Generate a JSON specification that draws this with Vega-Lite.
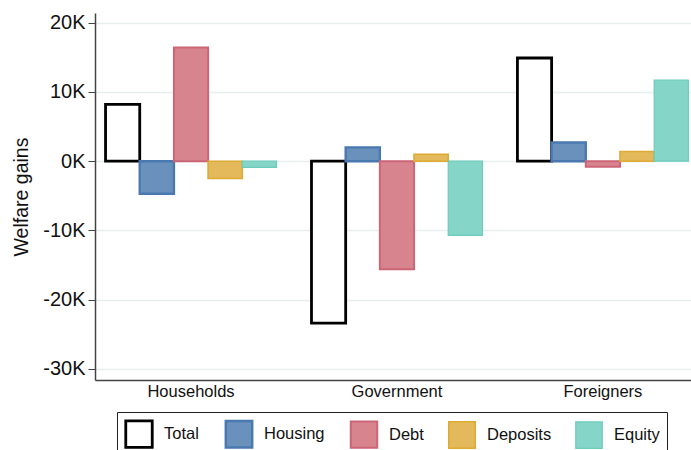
{
  "$schema": "https://vega.github.io/schema/vega-lite/v6.json",
  "autosize": {"type": "none"},
  "padding": {"left": 95, "top": 13, "right": 0, "bottom": 70},
  "width": 596,
  "height": 367,
  "background": "white",
  "config": {
    "font": "Liberation Sans",
    "view": {"stroke": null},
    "legend": {
      "title": "x",
      "titleColor": "#ffffff",
      "titleOrient": "right",
      "titlePadding": 11,
      "titleFontSize": 10,
      "orient": "none",
      "legendX": 22,
      "legendY": 399,
      "direction": "horizontal",
      "columns": 5,
      "symbolType": "square",
      "symbolSize": 700,
      "labelFontSize": 16.5,
      "labelColor": "#111",
      "labelOffset": 10,
      "columnPadding": 21,
      "padding": 7,
      "strokeColor": "#222",
      "fillColor": "white"
    }
  },
  "data": {
    "values": [
      {"sector": "Households", "series": "Total", "value": 8200},
      {"sector": "Households", "series": "Housing", "value": -4700},
      {"sector": "Households", "series": "Debt", "value": 16400},
      {"sector": "Households", "series": "Deposits", "value": -2500},
      {"sector": "Households", "series": "Equity", "value": -900},
      {"sector": "Government", "series": "Total", "value": -23400},
      {"sector": "Government", "series": "Housing", "value": 2000},
      {"sector": "Government", "series": "Debt", "value": -15600},
      {"sector": "Government", "series": "Deposits", "value": 1000},
      {"sector": "Government", "series": "Equity", "value": -10700},
      {"sector": "Foreigners", "series": "Total", "value": 14900},
      {"sector": "Foreigners", "series": "Housing", "value": 2700},
      {"sector": "Foreigners", "series": "Debt", "value": -800},
      {"sector": "Foreigners", "series": "Deposits", "value": 1400},
      {"sector": "Foreigners", "series": "Equity", "value": 11700}
    ]
  },
  "mark": {"type": "bar"},
  "encoding": {
    "x": {
      "field": "sector",
      "type": "nominal",
      "sort": ["Households", "Government", "Foreigners"],
      "scale": {"paddingInner": 0.17, "paddingOuter": 0.032, "align": 0.8},
      "axis": {
        "title": null,
        "labelAngle": 0,
        "ticks": false,
        "labelFontSize": 16.5,
        "labelColor": "#111",
        "labelPadding": 3,
        "domainColor": "#444",
        "domainWidth": 1.5
      }
    },
    "xOffset": {
      "field": "series",
      "type": "nominal",
      "sort": ["Total", "Housing", "Debt", "Deposits", "Equity"],
      "scale": {"paddingInner": 0, "paddingOuter": 0}
    },
    "y": {
      "field": "value",
      "type": "quantitative",
      "scale": {"domain": [-31600, 21400], "nice": false, "zero": false},
      "axis": {
        "title": "Welfare gains",
        "titleFontSize": 19.5,
        "titleFontWeight": "normal",
        "titleColor": "#111",
        "titlePadding": 11,
        "values": [-30000, -20000, -10000, 0, 10000, 20000],
        "labelExpr": "(datum.value < 0 ? '-' : '') + format(abs(datum.value)/1000, 'd') + 'K'",
        "labelFontSize": 20,
        "labelColor": "#111",
        "labelPadding": 3,
        "tickSize": 7,
        "tickColor": "#444",
        "domainColor": "#444",
        "domainWidth": 1.5,
        "grid": true,
        "gridColor": "#e6eff0",
        "gridWidth": 1.5
      }
    },
    "fill": {
      "field": "series",
      "type": "nominal",
      "sort": ["Total", "Housing", "Debt", "Deposits", "Equity"],
      "scale": {
        "domain": ["Total", "Housing", "Debt", "Deposits", "Equity"],
        "range": ["#ffffff", "#6a90bc", "#d7848f", "#e4b95b", "#85d5c8"]
      }
    },
    "stroke": {
      "field": "series",
      "type": "nominal",
      "sort": ["Total", "Housing", "Debt", "Deposits", "Equity"],
      "scale": {
        "domain": ["Total", "Housing", "Debt", "Deposits", "Equity"],
        "range": ["#000000", "#4a78b0", "#cc6677", "#ddaa33", "#6ccbbb"]
      }
    },
    "strokeWidth": {
      "field": "series",
      "type": "nominal",
      "sort": ["Total", "Housing", "Debt", "Deposits", "Equity"],
      "scale": {
        "domain": ["Total", "Housing", "Debt", "Deposits", "Equity"],
        "range": [2.8, 1.2, 1.2, 1.2, 1.2]
      }
    }
  }
}
